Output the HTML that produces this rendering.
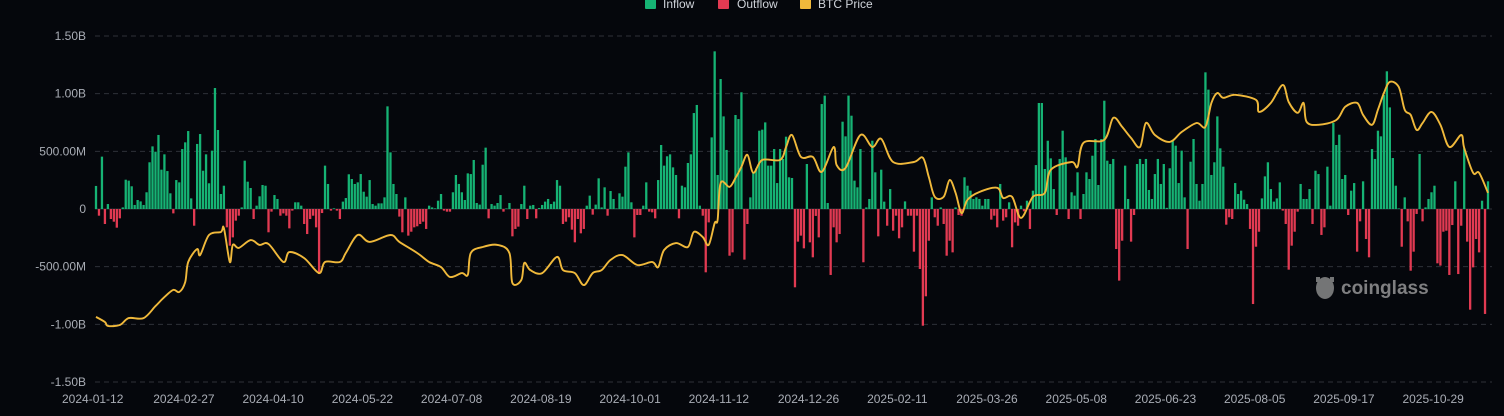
<!DOCTYPE html>
<html><head><meta charset="utf-8"><style>
html,body{margin:0;padding:0;background:#05070c;}
svg{display:block;font-family:"Liberation Sans",sans-serif;}
</style></head><body>
<svg id="chart" width="1504" height="416" viewBox="0 0 1504 416" xmlns="http://www.w3.org/2000/svg">
<rect width="1504" height="416" fill="#05070c"/>
<g id="grid"></g>
<g id="bars"></g>
<g id="price"></g>
<g id="yaxis"></g>
<g id="xaxis"></g>
<g>
  <g><rect x="645" y="-1" width="11" height="10" rx="1" fill="#16b374"/><text x="663" y="8" fill="#cfd3da" font-size="12">Inflow</text></g>
  <g><rect x="718" y="-1" width="11" height="10" rx="1" fill="#e23a52"/><text x="737" y="8" fill="#cfd3da" font-size="12">Outflow</text></g>
  <g><rect x="800" y="-1" width="11" height="10" rx="1" fill="#f0b93b"/><text x="818" y="8" fill="#cfd3da" font-size="12">BTC Price</text></g>
</g>
<g opacity="0.75">
  <ellipse cx="1325" cy="288" rx="9" ry="11" fill="#9a9a9a"/>
  <rect x="1316" y="277" width="4" height="5" fill="#9a9a9a"/><rect x="1330" y="277" width="4" height="5" fill="#9a9a9a"/>
  <text x="1341" y="294" fill="#a8a8a8" font-size="19" font-weight="bold">coinglass</text>
</g>
</svg>
<script>
const flows = [200,-58,454,-130,43,-87,-110,-162,-81,14,254,246,197,35,78,66,35,145,405,543,497,642,341,474,329,136,-38,251,231,520,578,676,92,-145,564,650,332,474,223,506,1049,685,130,202,-159,-318,-246,-101,-58,14,419,237,182,-87,29,110,208,202,-202,-23,121,87,-58,-38,-58,-168,-14,58,58,29,-130,-217,-87,-58,-159,-564,-35,376,217,-14,6,-14,-87,64,95,301,260,217,231,303,150,107,251,43,29,49,49,101,890,491,217,130,-66,-202,101,-231,-197,-159,-150,-130,-110,-173,29,14,6,72,130,-14,-23,
-23,145,295,217,145,78,309,303,425,52,38,384,532,-81,43,29,52,121,-23,5,52,-237,-173,-153,43,202,-87,29,35,-81,9,35,64,87,43,64,251,202,-130,-110,-72,-179,-289,-87,-211,-173,29,116,-49,38,266,14,188,-58,156,87,5,136,107,367,491,58,-246,-52,-52,29,231,-23,-29,-81,251,555,376,457,474,361,295,-81,202,188,399,474,832,902,29,-58,-549,-116,621,1367,295,1127,803,512,-405,-376,815,780,1012,-439,-130,101,318,353,679,688,751,376,376,520,225,520,434,627,275,269,-679,
-283,-231,-341,390,-289,-419,-60,-246,910,983,52,-572,-159,-289,-217,757,630,983,809,246,188,520,-462,14,87,592,318,-237,341,64,-145,173,-188,-58,-254,-159,66,-58,-58,-370,-58,-520,-1012,-757,-275,101,-72,-145,14,-130,-405,-275,-376,14,-52,-58,275,202,159,87,101,87,29,87,87,-92,-58,-159,217,-101,-72,58,-332,-116,-145,29,-20,72,-173,159,381,919,919,347,592,439,173,-52,434,679,448,-87,145,116,318,-87,130,318,260,462,607,208,607,939,419,390,434,-347,-621,-275,376,87,-283,-52,390,434,
390,434,165,87,303,434,217,390,10,353,592,549,225,506,101,-347,410,607,217,72,217,1185,1035,295,405,803,526,367,-136,-72,-87,225,130,159,81,43,-173,-824,-327,-197,92,283,405,173,64,92,231,-14,-130,-526,-318,-197,-23,217,87,87,173,-130,332,303,-225,-159,367,29,746,555,644,260,295,-52,159,225,-370,-107,240,-260,-419,520,434,679,630,988,1194,881,442,202,5,-327,101,-107,-535,-370,-43,477,-107,14,87,145,202,-471,-491,-197,-188,-572,-139,240,-564,-145,526,-283,-873,-506,-260,-376,72,-910,240];
const priceDay = [0,3,4,8,11,16,20,23,26,28,30,31,34,35,38,42,43,45,46,48,52,55,58,63,65,70,75,77,82,84,88,92,99,102,108,112,116,119,123,125,126,130,135,139,140,143,144,146,150,155,157,161,164,167,170,173,177,182,187,189,191,195,199,201,204,206,208,209,210,213,215,217,219,221,224,230,232,234,237,241,244,248,249,252,257,261,264,268,275,278,280,282,285,287,289,291,293,297,303,305,308,311,315,319,321,328,330,332,339,342,345,348,351,353,356,361,365,370,373,375,377,379,383,390,391,395,399,401,404,406,407,411,417,420,424,426,429,431,433,435,438,440,442,444,446,449,452,455,459,460,463,465,468];
const priceVal = [43.7,42.0,40.7,41.0,43.3,43.3,47.3,50.3,52.7,52.0,55.3,62.0,66.3,64.3,71.0,72.0,73.3,62.0,67.7,66.7,69.3,67.7,68.0,62.0,65.3,63.3,58.3,62.0,62.0,65.0,71.0,68.7,71.0,68.7,65.0,62.0,60.3,57.0,58.3,57.7,65.0,67.0,67.7,65.0,55.0,56.0,61.7,59.3,58.3,63.7,59.3,58.3,54.3,58.3,59.3,62.7,64.3,61.0,62.0,60.3,66.0,68.3,67.0,72.0,70.3,67.7,75.0,76.0,88.3,87.0,90.0,93.7,97.7,91.7,96.0,96.0,100.3,104.3,97.0,97.0,92.0,100.3,94.3,93.3,104.3,100.3,103.0,95.3,95.3,96.7,90.3,83.7,83.7,89.3,85.0,78.3,82.7,85.3,86.7,83.3,83.7,76.7,83.7,85.0,92.7,95.3,93.7,101.7,102.7,110.0,107.0,103.3,100.3,108.3,104.3,102.0,105.3,108.3,107.0,115.0,118.3,116.7,117.7,116.0,112.0,115.0,121.0,115.3,111.7,115.0,108.7,107.7,109.3,113.7,115.0,111.0,107.7,112.7,118.3,122.0,120.3,112.7,111.0,106.0,108.3,112.0,107.7,100.3,104.3,100.0,91.7,91.7,85.0];
const yTicks = [1500,1000,500,0,-500,-1000,-1500];
const yTickLabels = ["1.50B","1.00B","500.00M","0","-500.00M","-1.00B","-1.50B"];
const xTickLabels = ["2024-01-12","2024-02-27","2024-04-10","2024-05-22","2024-07-08","2024-08-19","2024-10-01","2024-11-12","2024-12-26","2025-02-11","2025-03-26","2025-05-08","2025-06-23","2025-08-05","2025-09-17","2025-10-29"];
const xTickIdx = [0,30,60,90,120,150,180,210,240,270,300,330,360,390,420,450];

const NS="http://www.w3.org/2000/svg";
const N=flows.length;
const X0=96,X1=1488;
function xs(i){return X0+i*(X1-X0)/(N-1);}
function ys(v){return 209-v*(173/1500);}
function ps(p){return 328-(p-40)*(253/84.3);}
function mk(tag,attrs,parent){const e=document.createElementNS(NS,tag);for(const k in attrs)e.setAttribute(k,attrs[k]);parent.appendChild(e);return e;}

const grid=document.getElementById('grid'),yax=document.getElementById('yaxis'),xax=document.getElementById('xaxis');
yTicks.forEach((t,i)=>{
  const y=ys(t);
  if(t!==0){const l=mk('line',{x1:95,x2:1492,y1:y,y2:y,stroke:'#2e3138','stroke-dasharray':'5,4','stroke-width':1},grid);
  
  }
  const tx=mk('text',{x:86,y:y+4,'text-anchor':'end',fill:'#a9adb5','font-size':12},yax);
  tx.textContent=yTickLabels[i];
  
  
});
xTickIdx.forEach((ix,i)=>{
  const tx=mk('text',{x:xs(ix)+(i===0?-34:-32),y:403,fill:'#a9adb5','font-size':12},xax);
  tx.textContent=xTickLabels[i];
  
  
});
const bars=document.getElementById('bars');
flows.forEach((v,i)=>{
  const y0=ys(0),y=ys(v);
  const r=mk('rect',{x:xs(i)-1.15,y:Math.min(y,y0),width:2.3,height:Math.max(0.6,Math.abs(y-y0)),fill:v>=0?'#16b374':'#e23a52'},bars);
  
  
});
const zl=mk('line',{x1:95,x2:1492,y1:ys(0),y2:ys(0),stroke:'#2e3138','stroke-width':1},grid);


const pts=priceDay.map((dd,i)=>[xs(dd),ps(priceVal[i])]);
let d='M'+pts[0][0].toFixed(1)+','+pts[0][1].toFixed(1);
for(let i=0;i<pts.length-1;i++){
  const p0=pts[Math.max(0,i-1)],p1=pts[i],p2=pts[i+1],p3=pts[Math.min(pts.length-1,i+2)];
  const c1x=p1[0]+(p2[0]-p0[0])/6,c1y=p1[1]+(p2[1]-p0[1])/6;
  const c2x=p2[0]-(p3[0]-p1[0])/6,c2y=p2[1]-(p3[1]-p1[1])/6;
  d+='C'+c1x.toFixed(1)+','+c1y.toFixed(1)+' '+c2x.toFixed(1)+','+c2y.toFixed(1)+' '+p2[0].toFixed(1)+','+p2[1].toFixed(1);
}
const pl=mk('path',{d:d,fill:'none',stroke:'#f0b93b','stroke-width':1.9,'stroke-linejoin':'round'},document.getElementById('price'));


</script>
</body></html>
